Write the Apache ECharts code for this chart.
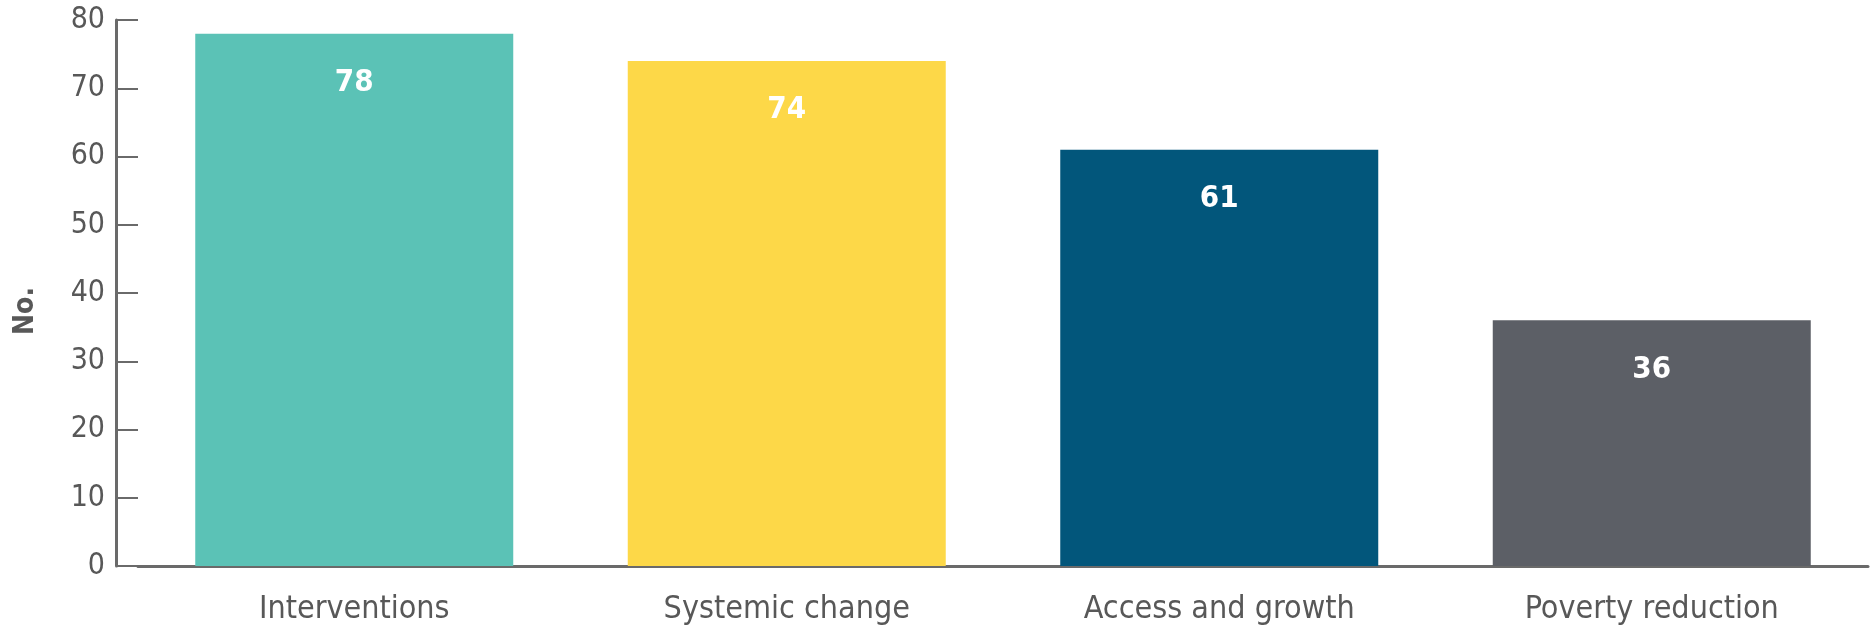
<!DOCTYPE html>
<html>
<head>
<meta charset="utf-8">
<style>
  html, body { margin: 0; padding: 0; background: #ffffff; }
  #chart { width: 1872px; height: 632px; }
</style>
<script src="https://cdn.jsdelivr.net/npm/echarts@6/dist/echarts.min.js"></script>
</head>
<body>
<div id="chart"></div>
<script>
// Number of items per category
const categories = ['Interventions', 'Systemic change', 'Access and growth', 'Poverty reduction'];
const counts = [78, 74, 61, 36];
const barColors = ['#5BC2B6', '#FDD848', '#02567B', '#5C5F66'];
const yTicks = { min: 0, max: 80, interval: 10 };

const font = '"DejaVu Sans Condensed", "DejaVu Sans", sans-serif';
const axisGray = '#6a6a6a';
const textGray = '#585858';

const chart = echarts.init(document.getElementById('chart'), null, { renderer: 'canvas' });

chart.setOption({
  animation: false,
  backgroundColor: '#ffffff',
  grid: { left: 138, right: 4, top: 20, bottom: 66, containLabel: false },
  xAxis: {
    type: 'category',
    data: categories,
    axisLine: { show: true, lineStyle: { color: axisGray, width: 3 } },
    axisTick: { show: false },
    axisLabel: { color: textGray, fontFamily: font, fontSize: 32, margin: 28 }
  },
  yAxis: {
    type: 'value',
    min: yTicks.min,
    max: yTicks.max,
    interval: yTicks.interval,
    offset: 22,
    name: 'No.',
    nameLocation: 'middle',
    nameGap: 76,
    nameRotate: 90,
    nameTextStyle: {
      color: textGray, fontFamily: font, fontSize: 28, fontWeight: 'bold',
      padding: [0, 36, 0, 0]
    },
    axisLine: { show: true, lineStyle: { color: axisGray, width: 3 } },
    axisTick: { show: true, inside: true, length: 22, lineStyle: { color: axisGray, width: 2 } },
    axisLabel: { color: textGray, fontFamily: font, fontSize: 30, margin: 11 },
    splitLine: { show: false }
  },
  series: [{
    type: 'bar',
    data: counts.map((v, i) => ({ value: v, itemStyle: { color: barColors[i] } })),
    barWidth: 318,
    label: {
      show: true,
      position: 'insideTop',
      distance: 34,
      color: '#ffffff',
      fontFamily: font,
      fontWeight: 'bold',
      fontSize: 31
    }
  }]
});
</script>
</body>
</html>
